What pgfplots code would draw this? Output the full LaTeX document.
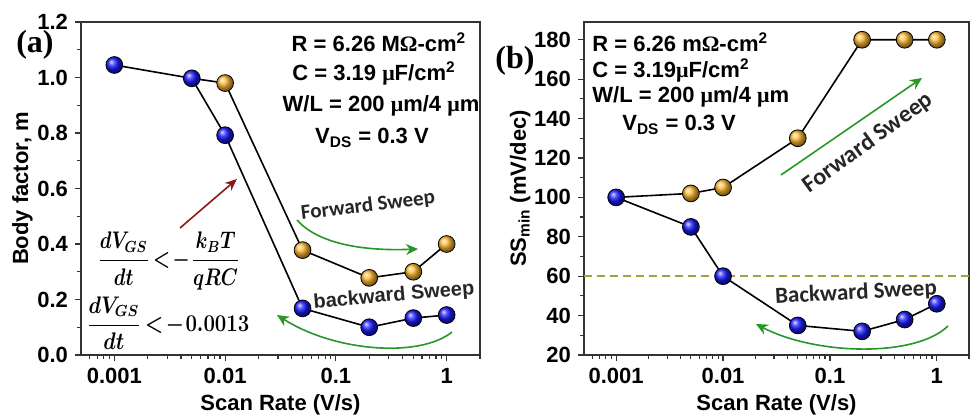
\documentclass[border=0pt]{standalone}
\usepackage{pgfplots}
\pgfplotsset{compat=1.18}
\usepackage{fontspec}
\setmainfont{Liberation Sans}
\newfontfamily\serifsym{Liberation Serif}
\newfontfamily\carlito{Carlito}
\usetikzlibrary{arrows.meta}
\definecolor{ballblue}{RGB}{25,25,255}
\definecolor{ballorange}{RGB}{255,185,50}
\definecolor{arrgreen}{RGB}{40,150,40}
\definecolor{arrred}{RGB}{140,25,25}
\definecolor{dashol}{RGB}{165,160,60}
\newsavebox{\eqAbox}
\newsavebox{\eqBbox}
\begin{document}
\sbox{\eqAbox}{\fontsize{11.5}{13}\selectfont\boldmath$\displaystyle\frac{dV_{GS}}{dt}\mkern3mu{<}\mkern2mu{-}\mkern1mu\frac{k_BT}{qRC}$}%
\sbox{\eqBbox}{\fontsize{11.5}{13}\selectfont\boldmath$\displaystyle\frac{dV_{GS}}{dt}\mkern3mu{<}\mkern2mu{-}\mkern1mu0.0013$}%
\begin{tikzpicture}
\path[use as bounding box] (0,0) rectangle (485pt,208.5pt);
% Panel (a)
\begin{axis}[
  scale only axis, anchor=south west,
  at={(40.5pt,31pt)}, width=199.5pt, height=166.5pt,
  xmode=log, xmin=0.0005, xmax=2,
  xtick={0.001,0.01,0.1,1}, xticklabels={0.001,0.01,0.1,1},
  minor xtick={0.0006,0.0007,0.0008,0.0009,0.002,0.003,0.004,0.005,0.006,0.007,0.008,0.009,0.02,0.03,0.04,0.05,0.06,0.07,0.08,0.09,0.2,0.3,0.4,0.5,0.6,0.7,0.8,0.9,2},
  ymin=0, ymax=1.2, ytick={0,0.2,0.4,0.6,0.8,1.0,1.2},
  minor y tick num=1,
  tick align=outside, tick pos=left,
  axis line style={line width=0.75pt, black!80},
  major tick length=3pt, minor tick length=1.8pt,
  tick style={line width=0.6pt, black!80},
  tick label style={font=\fontsize{11}{13}\selectfont\bfseries},
  yticklabel style={/pgf/number format/fixed, /pgf/number format/fixed zerofill, /pgf/number format/precision=1},
  /pgf/number format/assume math mode=true,
  xlabel style={font=\fontsize{11}{13}\selectfont\bfseries},
  ylabel style={font=\fontsize{11}{13}\selectfont\bfseries},
  xlabel={Scan Rate (V/s)},
  ylabel={Body factor, m},
  ylabel shift=-4.5pt, xlabel shift=-1.5pt,
  clip=false,
]
\addplot[black, line width=0.8pt, mark=none] coordinates {(0.001,1.045)(0.005,0.997)(0.01,0.98)(0.05,0.378)(0.2,0.278)(0.5,0.300)(1,0.400)};
\addplot[black, line width=0.8pt, mark=none] coordinates {(0.005,0.997)(0.01,0.792)(0.05,0.168)(0.2,0.100)(0.5,0.133)(1,0.144)};
\addplot[only marks, mark=ball, mark size=4.2pt, mark options={ball color=ballorange}] coordinates {(0.01,0.98)(0.05,0.378)(0.2,0.278)(0.5,0.300)(1,0.400)};
\addplot[only marks, mark=ball, mark size=4.2pt, mark options={ball color=ballblue}] coordinates {(0.001,1.045)(0.005,0.997)(0.01,0.792)(0.05,0.168)(0.2,0.100)(0.5,0.133)(1,0.144)};
\end{axis}
% Panel (b)
\begin{axis}[
  scale only axis, anchor=south west,
  at={(292pt,31pt)}, width=192.5pt, height=166.5pt,
  xmode=log, xmin=0.0005, xmax=2,
  xtick={0.001,0.01,0.1,1}, xticklabels={0.001,0.01,0.1,1},
  minor xtick={0.0006,0.0007,0.0008,0.0009,0.002,0.003,0.004,0.005,0.006,0.007,0.008,0.009,0.02,0.03,0.04,0.05,0.06,0.07,0.08,0.09,0.2,0.3,0.4,0.5,0.6,0.7,0.8,0.9,2},
  ymin=20, ymax=189, ytick={20,40,60,80,100,120,140,160,180},
  minor y tick num=1,
  tick align=outside, tick pos=left,
  axis line style={line width=0.75pt, black!80},
  major tick length=3pt, minor tick length=1.8pt,
  tick style={line width=0.6pt, black!80},
  tick label style={font=\fontsize{11}{13}\selectfont\bfseries},
  /pgf/number format/assume math mode=true,
  xlabel style={font=\fontsize{11}{13}\selectfont\bfseries},
  ylabel style={font=\fontsize{11}{13}\selectfont\bfseries},
  xlabel={Scan Rate (V/s)},
  ylabel={SS\textsubscript{min} (mV/dec)},
  ylabel shift=-5pt, xlabel shift=-1.5pt,
  clip=false,
]
\addplot[dashol, dash pattern=on 4pt off 2.5pt, line width=0.7pt] coordinates {(0.0005,60)(2,60)};
\addplot[black, line width=0.8pt, mark=none] coordinates {(0.001,100)(0.005,102)(0.01,105)(0.05,130)(0.2,180)(0.5,180)(1,180)};
\addplot[black, line width=0.8pt, mark=none] coordinates {(0.001,100)(0.005,85)(0.01,60)(0.05,35)(0.2,32)(0.5,38)(1,46)};
\addplot[only marks, mark=ball, mark size=4.2pt, mark options={ball color=ballorange}] coordinates {(0.005,102)(0.01,105)(0.05,130)(0.2,180)(0.5,180)(1,180)};
\addplot[only marks, mark=ball, mark size=4.2pt, mark options={ball color=ballblue}] coordinates {(0.001,100)(0.005,85)(0.01,60)(0.05,35)(0.2,32)(0.5,38)(1,46)};
\end{axis}
% Annotations in pixel coordinates (y downward)
\begin{scope}[x=0.5pt, y=-0.5pt, shift={(0pt,208.5pt)}]
\node[font=\fontsize{16}{18}\selectfont\serifsym\bfseries] at (35,45) {(a)};
\node[font=\fontsize{16}{18}\selectfont\serifsym\bfseries] at (515,61) {(b)};
\begin{scope}[every node/.style={font=\fontsize{11}{13}\selectfont\bfseries, inner sep=0pt}]
\node at (379,42) {R = 6.26 M{\serifsym Ω}-cm\textsuperscript{2}};
\node at (374,73) {C = 3.19 {\serifsym μ}F/cm\textsuperscript{2}};
\node at (381,106) {W/L = 200 {\serifsym μ}m/4 {\serifsym μ}m};
\node at (372,138) {V\textsubscript{DS} = 0.3 V};
\node[anchor=west] at (592,42) {R = 6.26 m{\serifsym Ω}-cm\textsuperscript{2}};
\node[anchor=west] at (592,70) {C = 3.19{\serifsym μ}F/cm\textsuperscript{2}};
\node[anchor=west] at (592,97) {W/L = 200 {\serifsym μ}m/4 {\serifsym μ}m};
\node[anchor=west] at (622,125) {V\textsubscript{DS} = 0.3 V};
\end{scope}
\node[inner sep=0pt, xscale=0.8, transform shape] at (169,261) {\usebox{\eqAbox}};
\node[inner sep=0pt, xscale=0.85, transform shape] at (168,323) {\usebox{\eqBbox}};
\draw[arrred, line width=0.8pt, -{Stealth[length=6pt,width=5pt]}] (180,228) -- (237,179);
\node[font=\fontsize{10.5}{12}\selectfont\carlito\bfseries, rotate=7, text=black!85] at (368,206) {Forward Sweep};
\node[font=\fontsize{10}{12}\selectfont\bfseries, rotate=5, text=black!85] at (394,296) {backward Sweep};
\node[font=\fontsize{12}{14}\selectfont\carlito\bfseries, rotate=36, text=black!85] at (868,143) {Forward Sweep};
\node[font=\fontsize{11.5}{14}\selectfont\carlito\bfseries, rotate=3, text=black!85] at (856,293) {Backward Sweep};
\draw[arrgreen, line width=0.8pt, -{Stealth[length=6pt,width=5.5pt]}] (297,220) .. controls (320,246) and (370,251) .. (418,249);
\draw[arrgreen, line width=0.8pt, -{Stealth[length=6pt,width=5.5pt]}] (452,332) .. controls (420,358) and (335,352) .. (277,315);
\draw[arrgreen, line width=0.8pt, -{Stealth[length=6pt,width=5.5pt]}] (781,175) -- (922,78);
\draw[arrgreen, line width=0.8pt, -{Stealth[length=6pt,width=5.5pt]}] (948,326) .. controls (915,358) and (815,355) .. (756,324);
\end{scope}
\end{tikzpicture}
\end{document}
